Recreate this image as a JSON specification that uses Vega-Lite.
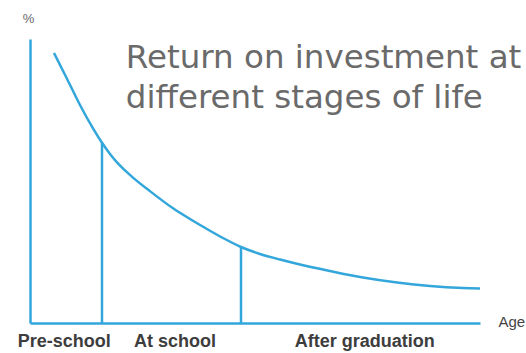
{
  "$schema": "https://vega.github.io/schema/vega-lite/v6.json",
  "width": 450,
  "height": 284,
  "autosize": {"type": "none"},
  "padding": {"left": 30, "top": 39, "right": 46, "bottom": 30},
  "background": "white",
  "config": {"view": {"stroke": null}},
  "datasets": {
    "curve": [
      {"age": 5.33, "ret": 95.07},
      {"age": 8.22, "ret": 86.02},
      {"age": 11.11, "ret": 76.76},
      {"age": 14.0, "ret": 68.52},
      {"age": 16.0, "ret": 63.45},
      {"age": 17.78, "ret": 59.51},
      {"age": 19.33, "ret": 56.55},
      {"age": 21.11, "ret": 53.73},
      {"age": 22.89, "ret": 51.2},
      {"age": 26.67, "ret": 46.41},
      {"age": 31.78, "ret": 40.39},
      {"age": 35.56, "ret": 36.62},
      {"age": 39.33, "ret": 33.1},
      {"age": 42.89, "ret": 29.93},
      {"age": 46.89, "ret": 26.76},
      {"age": 51.11, "ret": 24.3},
      {"age": 55.56, "ret": 22.36},
      {"age": 60.0, "ret": 20.6},
      {"age": 66.67, "ret": 18.31},
      {"age": 74.0, "ret": 16.02},
      {"age": 81.56, "ret": 14.26},
      {"age": 88.89, "ret": 13.03},
      {"age": 96.22, "ret": 12.32},
      {"age": 100, "ret": 12.15}
    ],
    "dividers": [
      {"age": 16.0, "ret": 63.45},
      {"age": 46.89, "ret": 26.76}
    ],
    "stages": [
      {"stage": "Pre-school", "mid": 7.6},
      {"stage": "At school", "mid": 32.2},
      {"stage": "After graduation", "mid": 74.4}
    ]
  },
  "layer": [
    {
      "data": {"name": "curve"},
      "mark": {"type": "line", "interpolate": "monotone", "color": "#33a6db", "strokeWidth": 2.5},
      "encoding": {
        "x": {
          "field": "age", "type": "quantitative",
          "scale": {"domain": [0, 100], "nice": false},
          "axis": {
            "title": "Age", "domain": true, "domainColor": "#33a6db", "domainWidth": 2.5,
            "ticks": false, "labels": false, "grid": false,
            "titleX": 468, "titleY": -2, "titleAlign": "left", "titleBaseline": "middle",
            "titleFont": "Liberation Sans", "titleFontSize": 15, "titleFontWeight": "normal", "titleColor": "#444444"
          }
        },
        "y": {
          "field": "ret", "type": "quantitative",
          "scale": {"domain": [0, 100], "nice": false},
          "axis": {
            "title": "%", "domain": true, "domainColor": "#33a6db", "domainWidth": 2.5,
            "ticks": false, "labels": false, "grid": false,
            "titleAngle": 0, "titleX": -2, "titleY": -21, "titleAlign": "center", "titleBaseline": "middle",
            "titleFont": "Liberation Sans", "titleFontSize": 13, "titleFontWeight": "normal", "titleColor": "#666666"
          }
        }
      }
    },
    {
      "data": {"name": "dividers"},
      "mark": {"type": "rule", "color": "#33a6db", "strokeWidth": 2.5},
      "encoding": {
        "x": {"field": "age", "type": "quantitative"},
        "y": {"field": "ret", "type": "quantitative"},
        "y2": {"datum": 0}
      }
    },
    {
      "data": {"name": "stages"},
      "mark": {"type": "text", "dy": 19, "baseline": "middle", "align": "center", "font": "Liberation Sans", "fontWeight": "bold", "fontSize": 18, "color": "#3d3d3d"},
      "encoding": {
        "x": {"field": "mid", "type": "quantitative"},
        "y": {"datum": 0, "type": "quantitative"},
        "text": {"field": "stage", "type": "nominal"}
      }
    },
    {
      "data": {"values": [{"t": "Return on investment at\ndifferent stages of life"}]},
      "mark": {"type": "text", "align": "left", "baseline": "alphabetic", "lineBreak": "\n", "lineHeight": 40, "font": "DejaVu Sans", "fontSize": 32.5, "fontWeight": "normal", "color": "#6a6a6a"},
      "encoding": {
        "x": {"datum": 21.3, "type": "quantitative"},
        "y": {"datum": 89.8, "type": "quantitative"},
        "text": {"field": "t", "type": "nominal"}
      }
    }
  ]
}
